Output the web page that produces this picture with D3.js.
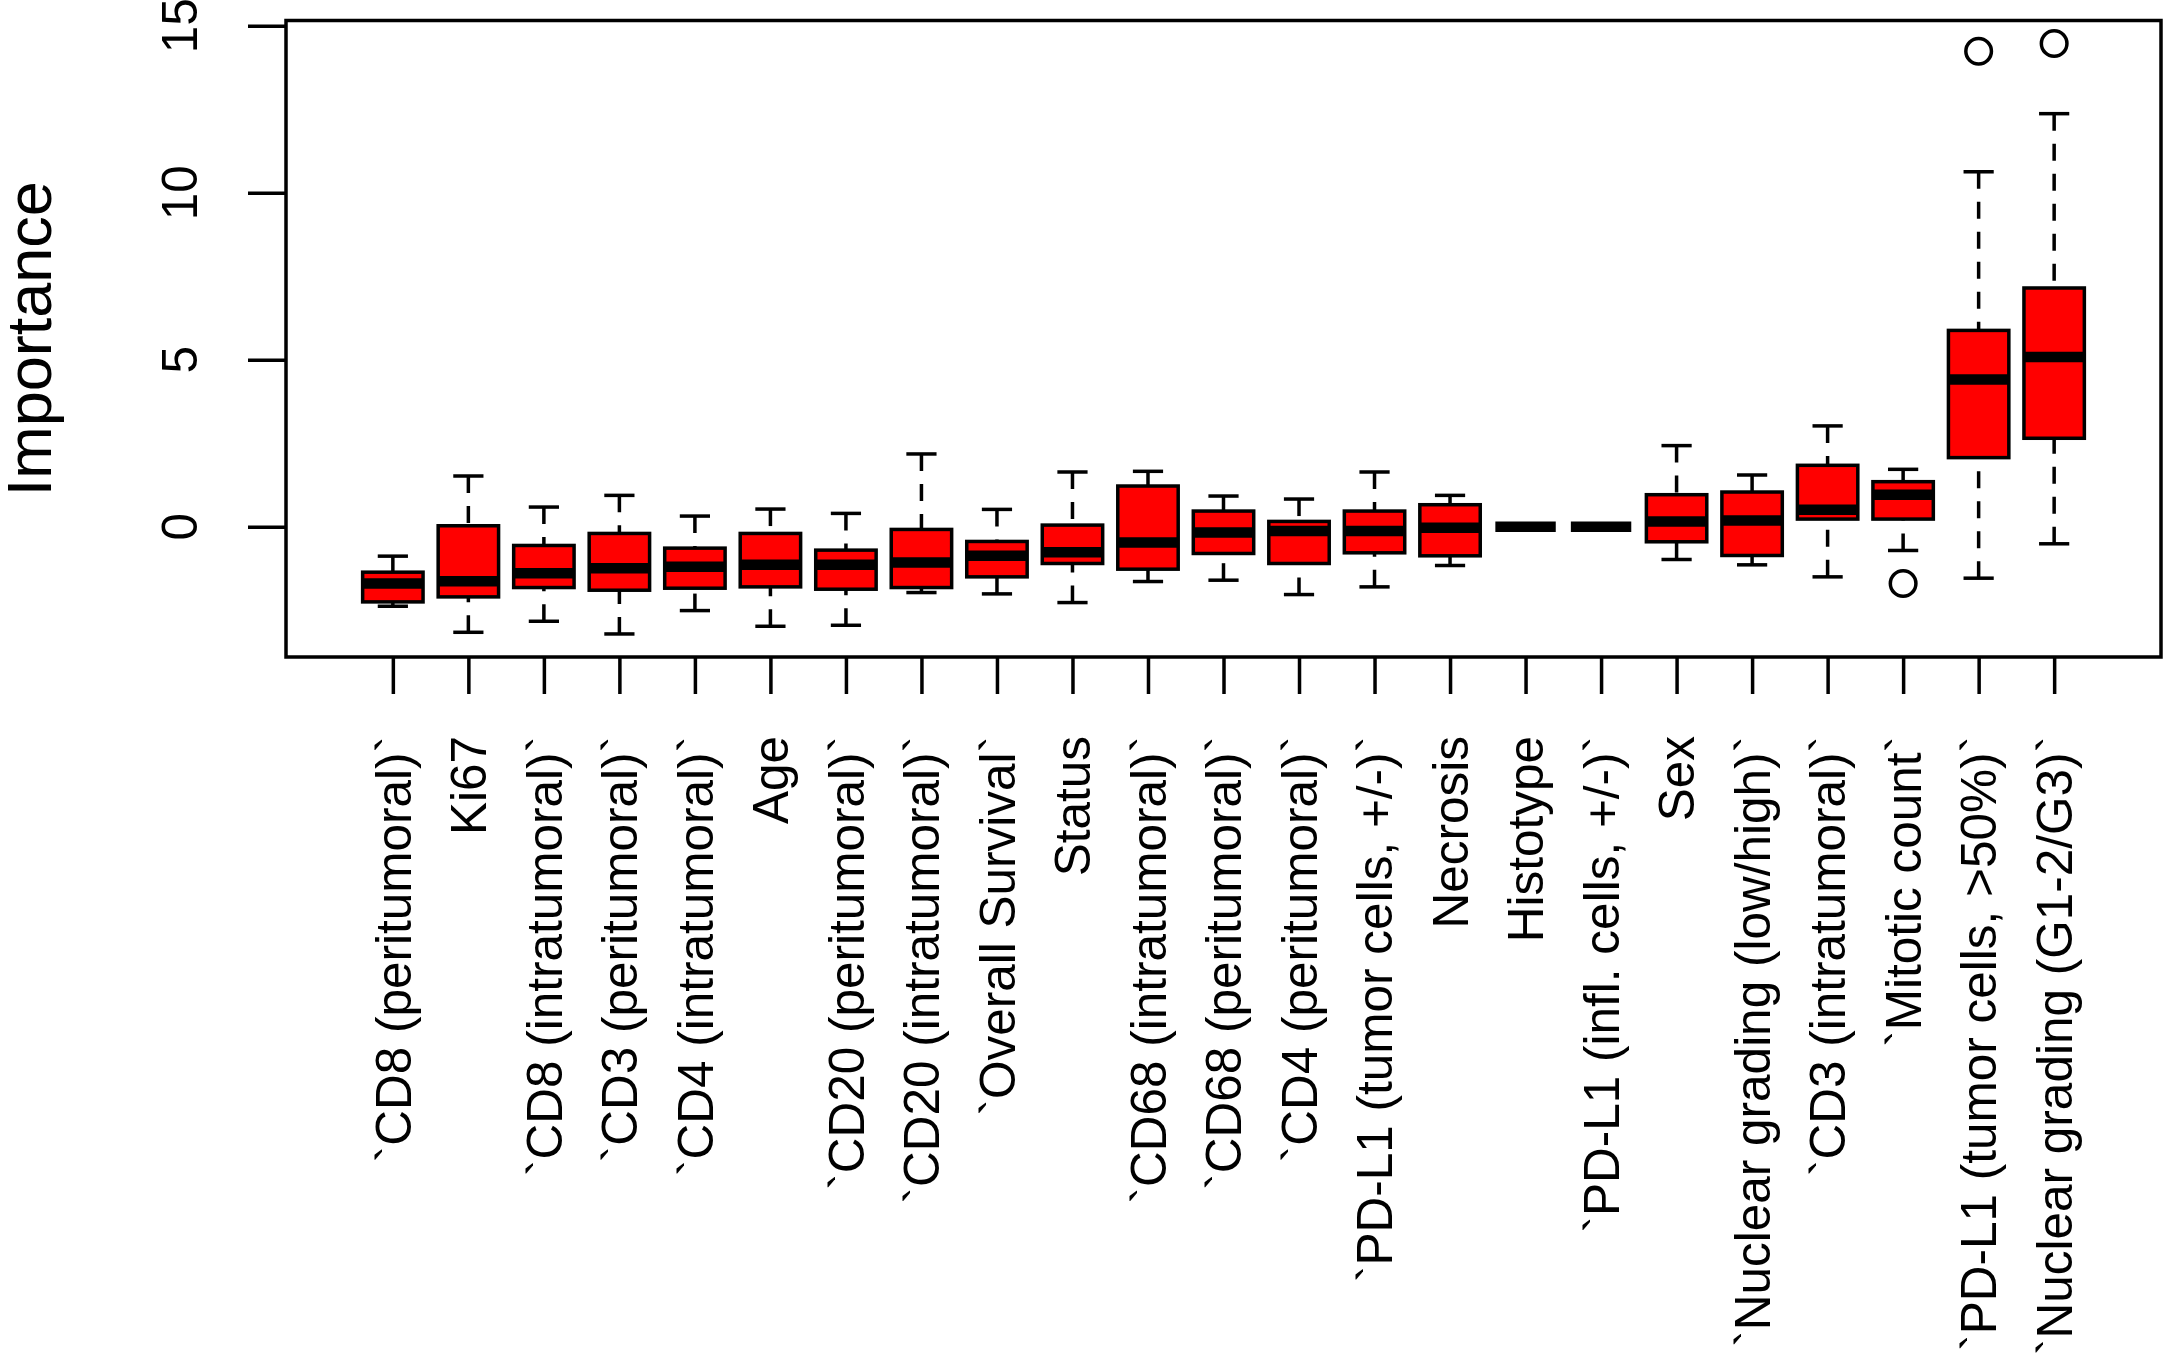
<!DOCTYPE html>
<html>
<head>
<meta charset="utf-8">
<script src="https://cdn.jsdelivr.net/npm/d3@7"></script>
<style>
  html, body { margin: 0; padding: 0; background: #fff; }
  svg { display: block; }
  text { font-family: "Liberation Sans", Arial, Helvetica, sans-serif; fill: #000; }
</style>
</head>
<body>
<svg id="chart" width="2165" height="1356"></svg>
<script>
const categories = [
  "`CD8 (peritumoral)`", "Ki67", "`CD8 (intratumoral)`", "`CD3 (peritumoral)`",
  "`CD4 (intratumoral)`", "Age", "`CD20 (peritumoral)`", "`CD20 (intratumoral)`",
  "`Overall Survival`", "Status", "`CD68 (intratumoral)`", "`CD68 (peritumoral)`",
  "`CD4 (peritumoral)`", "`PD-L1 (tumor cells, +/-)`", "Necrosis", "Histotype",
  "`PD-L1 (infl. cells, +/-)`", "Sex", "`Nuclear grading (low/high)`",
  "`CD3 (intratumoral)`", "`Mitotic count`", "`PD-L1 (tumor cells, >50%)`",
  "`Nuclear grading (G1-2/G3)`"
];
const whiskerLow  = [-2.38, -3.16, -2.83, -3.21, -2.51, -2.98, -2.95, -1.97, -2.01, -2.27, -1.64, -1.60, -2.03, -1.80, -1.16, 0, 0, -0.98, -1.14, -1.50, -0.71, -1.54, -0.51];
const q1          = [-2.25, -2.10, -1.82, -1.90, -1.84, -1.80, -1.87, -1.82, -1.50, -1.10, -1.27, -0.80, -1.10, -0.78, -0.87, 0, 0, -0.45, -0.86, 0.23, 0.23, 2.07, 2.65];
const medians     = [-1.70, -1.63, -1.39, -1.24, -1.20, -1.14, -1.14, -1.07, -0.87, -0.76, -0.47, -0.17, -0.13, -0.13, -0.03, 0, 0, 0.16, 0.19, 0.51, 0.96, 4.41, 5.08];
const q3          = [-1.36, 0.03, -0.56, -0.20, -0.64, -0.20, -0.70, -0.08, -0.44, 0.05, 1.22, 0.47, 0.16, 0.47, 0.66, 0, 0, 0.96, 1.04, 1.84, 1.35, 5.88, 7.15];
const whiskerHigh = [-0.88, 1.52, 0.59, 0.94, 0.32, 0.53, 0.40, 2.18, 0.52, 1.64, 1.66, 0.92, 0.83, 1.64, 0.94, 0, 0, 2.43, 1.55, 3.02, 1.72, 10.63, 12.37];
const outlierCategory = ["`Mitotic count`", "`PD-L1 (tumor cells, >50%)`", "`Nuclear grading (G1-2/G3)`"];
const outlierValue    = [-1.70, 14.24, 14.47];
const yTicks = [0, 5, 10, 15];
const yTitle = "Importance";

const svg = d3.select("#chart");
const plot = { left: 286, right: 2161, top: 20.5, bottom: 657 };

const x = d3.scalePoint().domain(categories).range([plot.left, plot.right]).padding(1.415);
const y = d3.scaleLinear().domain([-3.9, 15.16]).range([plot.bottom, plot.top]);
const step = x.step();
const boxW = step * 0.8;
const stapleW = boxW * 0.5;
const lw = 3.5;

const data = categories.map((c, i) => ({
  c, lo: whiskerLow[i], q1: q1[i], med: medians[i], q3: q3[i], hi: whiskerHigh[i]
}));

const g = svg.append("g");

// whiskers (dashed), from staple toward box
g.selectAll("line.wlo").data(data).join("line")
  .attr("x1", d => x(d.c)).attr("x2", d => x(d.c))
  .attr("y1", d => y(d.lo)).attr("y2", d => y(d.q1))
  .attr("stroke", "#000").attr("stroke-width", lw).attr("stroke-dasharray", "17,13");
g.selectAll("line.whi").data(data).join("line")
  .attr("x1", d => x(d.c)).attr("x2", d => x(d.c))
  .attr("y1", d => y(d.hi)).attr("y2", d => y(d.q3))
  .attr("stroke", "#000").attr("stroke-width", lw).attr("stroke-dasharray", "17,13");

// staples
["lo", "hi"].forEach(k => {
  g.selectAll("line.st" + k).data(data).join("line")
    .attr("x1", d => x(d.c) - stapleW / 2).attr("x2", d => x(d.c) + stapleW / 2)
    .attr("y1", d => y(d[k])).attr("y2", d => y(d[k]))
    .attr("stroke", "#000").attr("stroke-width", lw);
});

// boxes
g.selectAll("rect.box").data(data).join("rect")
  .attr("x", d => x(d.c) - boxW / 2).attr("width", boxW)
  .attr("y", d => y(d.q3)).attr("height", d => y(d.q1) - y(d.q3))
  .attr("fill", "#ff0000").attr("stroke", "#000").attr("stroke-width", lw);

// medians
g.selectAll("line.med").data(data).join("line")
  .attr("x1", d => x(d.c) - boxW / 2).attr("x2", d => x(d.c) + boxW / 2)
  .attr("y1", d => y(d.med)).attr("y2", d => y(d.med))
  .attr("stroke", "#000").attr("stroke-width", lw * 3);

// outliers
g.selectAll("circle.out").data(outlierValue.map((v, i) => ({ c: outlierCategory[i], v }))).join("circle")
  .attr("cx", d => x(d.c)).attr("cy", d => y(d.v)).attr("r", 12.8)
  .attr("fill", "none").attr("stroke", "#000").attr("stroke-width", lw);

// frame
svg.append("rect")
  .attr("x", plot.left).attr("y", plot.top)
  .attr("width", plot.right - plot.left).attr("height", plot.bottom - plot.top)
  .attr("fill", "none").attr("stroke", "#000").attr("stroke-width", lw);

// x axis
const xAxis = d3.axisBottom(x).tickSize(37).tickFormat("");
const xg = svg.append("g").attr("transform", `translate(0,${plot.bottom})`).call(xAxis);
xg.select(".domain").remove();
xg.selectAll(".tick line").attr("stroke", "#000").attr("stroke-width", lw);
svg.append("g").selectAll("text.xl").data(categories).join("text")
  .attr("transform", d => `translate(${x(d)},736) rotate(-90)`)
  .attr("text-anchor", "end").attr("dy", "0.36em")
  .style("font-size", "49.5px")
  .text(d => d);

// y axis
const yAxis = d3.axisLeft(y).tickValues(yTicks).tickSize(38).tickFormat("");
const yg = svg.append("g").attr("transform", `translate(${plot.left},0)`).call(yAxis);
yg.select(".domain").remove();
yg.selectAll(".tick line").attr("stroke", "#000").attr("stroke-width", lw);
svg.append("g").selectAll("text.yl").data(yTicks).join("text")
  .attr("transform", d => `translate(197,${y(d)}) rotate(-90)`)
  .attr("text-anchor", "middle")
  .style("font-size", "49.5px")
  .text(d => d);

svg.append("text")
  .attr("transform", `translate(51,${(plot.top + plot.bottom) / 2}) rotate(-90)`)
  .attr("text-anchor", "middle")
  .style("font-size", "63px")
  .text(yTitle);
</script>
</body>
</html>
